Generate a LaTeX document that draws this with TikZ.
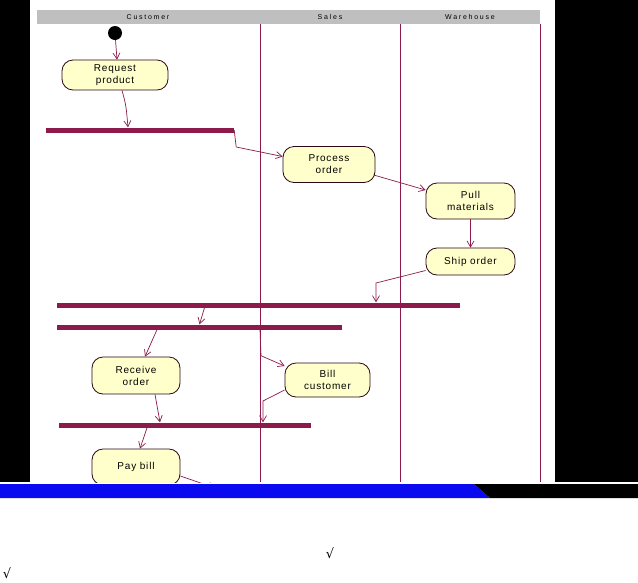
\documentclass[tikz,border=0pt]{standalone}
\usepackage{fontspec}
\setmainfont{Liberation Sans}
\newfontfamily\symfont{DejaVu Sans}
\usetikzlibrary{calc, arrows.meta}

\definecolor{lane}{HTML}{8C1A4B}
\definecolor{actfill}{HTML}{FFFFCC}
\definecolor{slideblue}{HTML}{0A0AF0}

\begin{document}
\begin{tikzpicture}[x=1pt, y=-1pt,
  every node/.style={font=\fontsize{10}{12}\selectfont\addfontfeature{LetterSpace=8}, align=center},
  activity/.style={draw=black!70!lane, line width=0.8pt, rounded corners=11pt, fill=actfill, inner sep=0pt},
  syncbar/.style={fill=lane, draw=none, minimum height=5pt, inner sep=0pt},
  lanehead/.style={font=\fontsize{7}{8}\selectfont\addfontfeature{LetterSpace=25}},
  flow/.style={-{Straight Barb[length=6pt, width=7pt]}, draw=lane, line width=0.7pt}]
  \useasboundingbox (0,0) rectangle (638,582);

  % Slide frame
  \fill[black] (0,0) rectangle (638,482);
  \fill[white] (30,0) rectangle (555,482);
  \fill[slideblue] (0,484) -- (474,484) -- (490,498) -- (0,498) -- cycle;
  \fill[black] (474,484) -- (638,484) -- (638,498) -- (490,498) -- cycle;

  \begin{scope}
    \clip (30,0) rectangle (555,482);
    % Swimlanes
    \fill[black!25] (37,10) rectangle (540,24);
    \node[lanehead] (hcust) at (148,17) {Customer};
    \node[lanehead] (hsales) at (330,17) {Sales};
    \node[lanehead] (hware) at (470,17) {Warehouse};
    \draw[lane, line width=0.7pt] (260,24) -- (260,482);
    \draw[lane, line width=0.7pt] (400,24) -- (400,482);
    \draw[lane, line width=0.7pt] (540,24) -- (540,482);

    % Nodes
    \node[circle, fill=black, minimum size=14pt, inner sep=0pt] (start) at (115,33) {};
    \node[activity, minimum width=106pt, minimum height=30pt] (request) at (115,75) {Request\\product};
    \node[syncbar, minimum width=188pt] (bar1) at (140,130) {};
    \node[activity, minimum width=92pt, minimum height=36pt] (process) at (329,164.5) {Process\\order};
    \node[activity, minimum width=89pt, minimum height=36pt] (pull) at (470.5,201) {Pull\\materials};
    \node[activity, minimum width=89pt, minimum height=27pt] (ship) at (470.5,261.5) {Ship order};
    \node[syncbar, minimum width=403pt] (bar2) at (258.5,305) {};
    \node[syncbar, minimum width=285pt] (bar3) at (199.5,327) {};
    \node[activity, minimum width=88pt, minimum height=37pt] (receive) at (136,375.5) {Receive\\order};
    \node[activity, minimum width=85pt, minimum height=34pt] (bill) at (327.5,380) {Bill\\customer};
    \node[syncbar, minimum width=252pt] (bar4) at (185,425) {};
    \node[activity, minimum width=88pt, minimum height=36pt] (pay) at (136,467) {Pay bill};
    \coordinate (shipbend) at (376,283);
    \coordinate (billbend) at (263,401);
    \coordinate (payout) at (215,488);

    % Flow
    \draw[flow] (start) -- ([xshift=2pt]request.north);
    \draw[flow] ([xshift=7pt]request.south) .. controls (126,105) .. ([xshift=-12pt]bar1.north);
    \draw[flow] (bar1.east) -- ++(2,17) -- ([yshift=8pt]process.west);
    \draw[flow] ([xshift=-2pt,yshift=8pt]process.south east) -- ([yshift=11pt]pull.west);
    \draw[flow] (pull) -- (ship);
    \draw[flow] ([yshift=-9pt]ship.west) -- (shipbend) -- (bar2.north -| shipbend);
    \draw[flow] ([xshift=-54pt]bar2.south) -- (bar3.north);
    \draw[flow] ([xshift=-42.5pt]bar3.south) -- ([xshift=9pt]receive.north);
    \draw[flow] ([xshift=60.5pt]bar3.south) -- ++(1,26) -- ([yshift=14pt]bill.west);
    \draw[flow] ([xshift=19pt]receive.south) -- ([xshift=-25pt]bar4.north);
    \draw[flow] ([yshift=-10pt]bill.west) -- (billbend) -- (bar4.north -| billbend);
    \draw[flow] ([xshift=-38pt]bar4.south) -- ([xshift=4pt]pay.north);
    \draw[flow] ([yshift=-9pt]pay.east) -- (payout);
  \end{scope}

  % Notes
  \node[font=\symfont\fontsize{13}{14}\selectfont] (tick1) at (330,553) {√};
  \node[font=\symfont\fontsize{13}{14}\selectfont] (tick2) at (7,573) {√};
\end{tikzpicture}
\end{document}
